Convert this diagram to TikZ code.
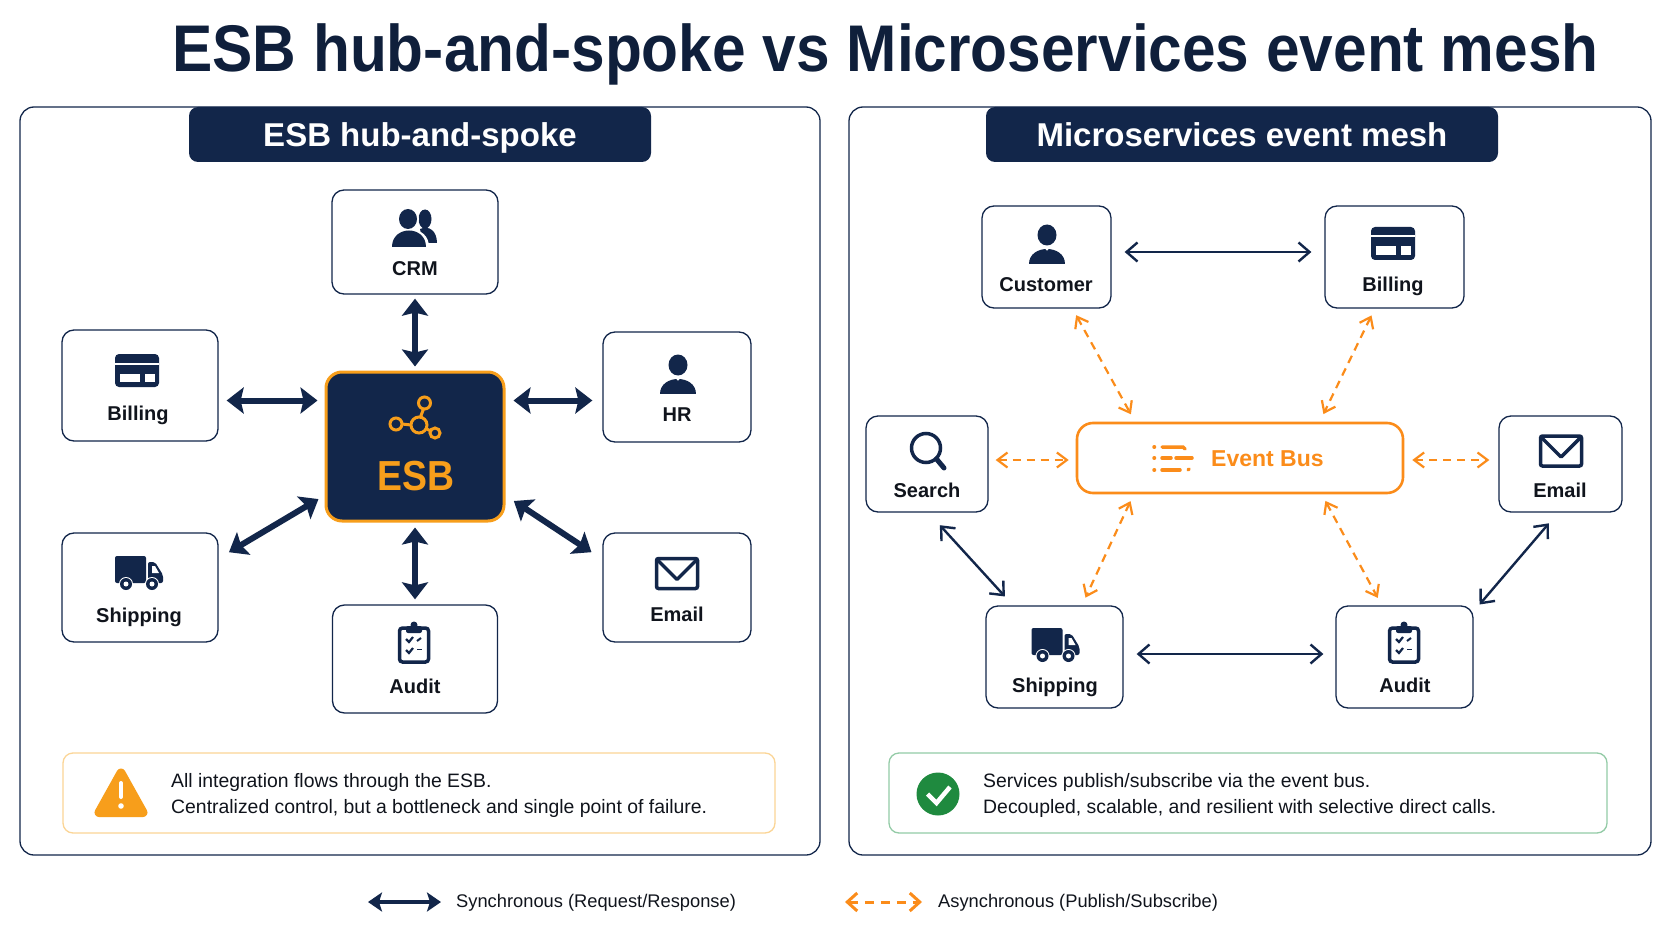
\documentclass[tikz,border=0pt]{standalone}
\usepackage{fontspec}
\setmainfont{Liberation Sans}
\newfontfamily\narrowfont[FakeStretch=0.915]{Liberation Sans}
\newfontfamily\esbfont[FakeStretch=0.89]{Liberation Sans}
\usetikzlibrary{arrows.meta}
\definecolor{navy}{HTML}{12264A}
\definecolor{titlenavy}{HTML}{0F1F3B}
\definecolor{inkblack}{HTML}{10141C}
\definecolor{busorange}{HTML}{FB8C1A}
\definecolor{esborange}{HTML}{F79E1B}
\definecolor{notegreen}{HTML}{93CBA6}
\definecolor{noteorange}{HTML}{FBD596}
\definecolor{okgreen}{HTML}{1F8A3F}
\tikzset{
  panelbox/.style={draw=navy, line width=1.3pt, rounded corners=14pt, fill=white},
  headbox/.style={fill=navy, rounded corners=9pt, text=white, font=\fontsize{33}{36}\selectfont\bfseries, text height=24pt, text depth=0pt},
  svcbox/.style={draw=navy, line width=1.3pt, rounded corners=12pt, fill=white},
  svclabel/.style={text=inkblack, font=\fontsize{20}{24}\selectfont\bfseries, inner sep=0pt, text height=15pt, text depth=0pt},
  notebox/.style={line width=1.3pt, rounded corners=10pt, fill=white},
  notetext/.style={anchor=west, align=left, inner sep=0pt, text=inkblack, font=\fontsize{19.4}{26}\selectfont},
  legendtext/.style={anchor=west, inner sep=0pt, text=inkblack, font=\fontsize{18.3}{24}\selectfont},
  hubarrow/.style={draw=navy, line width=6pt, {Stealth[length=17pt,width=26pt,inset=3pt]}-{Stealth[length=17pt,width=26pt,inset=3pt]}},
  syncarrow/.style={draw=navy, line width=2.4pt, {Straight Barb[length=11pt,width=19pt]}-{Straight Barb[length=11pt,width=19pt]}},
  asyncarrow/.style={draw=busorange, line width=2.2pt, dash pattern=on 8pt off 6pt, {Straight Barb[length=10pt,width=15pt]}-{Straight Barb[length=10pt,width=15pt]}},
}
\newcommand{\iconperson}[2]{\begin{scope}[shift={(#1,#2)}]
\fill [navy] (0,-10) ellipse (9.5 and 10.5);
\fill [navy] (-18,19) .. controls (-18,-1) and (18,-1) .. (18,19) -- cycle;
\draw [white, line width=1pt] (-3,1.5) -- (0,5) -- (3,1.5);
\end{scope}}
\newcommand{\iconpeople}[2]{\begin{scope}[shift={(#1,#2)}]
\fill [navy] (15,-9) ellipse (6.5 and 9.5);
\fill [navy] (13,15) -- (10,1) .. controls (19,-3) and (27,3) .. (27,15) -- cycle;
\fill [white] (-2,-9) ellipse (11 and 12);
\fill [white] (-15,19) .. controls (-15,-4) and (19,-4) .. (19,19) -- cycle;
\fill [navy] (-2,-9) ellipse (9 and 10);
\fill [navy] (-18,19) .. controls (-18,-3) and (16,-3) .. (16,19) -- cycle;
\end{scope}}
\newcommand{\iconcard}[2]{\begin{scope}[shift={(#1,#2)}]
\fill [navy, rounded corners=4pt] (-22,-16.5) rectangle (22,16.5);
\fill [white] (-22,-8) rectangle (22,-6);
\fill [white] (-17,3) rectangle (3,11.5);
\fill [white] (8,3) rectangle (18,11.5);
\end{scope}}
\newcommand{\iconmail}[2]{\begin{scope}[shift={(#1,#2)}]
\draw [navy, line width=3.5pt, rounded corners=2pt] (-20.5,-15) rectangle (20.5,15);
\draw [navy, line width=3.5pt, line join=round] (-19,-13) -- (0,6) -- (19,-13);
\end{scope}}
\newcommand{\icontruck}[2]{\begin{scope}[shift={(#1,#2)}]
\fill [navy, rounded corners=2pt] (-24,-17) rectangle (7,10);
\fill [navy, rounded corners=2pt] (9,-11) -- (16,-11) -- (24,2) -- (24,10) -- (9,10) -- cycle;
\fill [white] (13,-7) -- (16,-7) -- (20,0) -- (13,0) -- cycle;
\fill [white] (-13,11) circle (7);
\fill [white] (13,11) circle (7);
\fill [navy] (-13,11) circle (6);
\fill [navy] (13,11) circle (6);
\fill [white] (-13,11) circle (2.5);
\fill [white] (13,11) circle (2.5);
\end{scope}}
\newcommand{\iconclip}[2]{\begin{scope}[shift={(#1,#2)}]
\draw [navy, line width=3.5pt, rounded corners=3pt] (-14.5,-15) rectangle (14.5,19);
\fill [navy, rounded corners=2pt] (-8,-17) rectangle (8,-10);
\fill [navy] (0,-18) circle (3.5);
\draw [navy, line width=2.2pt] (-8,-4) -- (-5,-1) -- (-1,-6);
\draw [navy, line width=2.2pt] (-8,7) -- (-5,10) -- (-1,5);
\draw [navy, line width=2pt] (3,-2) -- (7,-5);
\draw [navy, line width=1.6pt] (3,6.5) -- (8,6.5);
\end{scope}}
\begin{document}
\begin{tikzpicture}[x=1pt,y=-1pt]
\useasboundingbox (0,0) rectangle (1672,941);
\node [text=titlenavy, font=\narrowfont\fontsize{66}{70}\selectfont\bfseries, inner sep=0pt, text height=50pt, text depth=0pt] (title) at (885.5,47) {ESB hub-and-spoke vs Microservices event mesh};

\draw [panelbox] (20,107) rectangle (820,855);
\draw [panelbox] (849,107) rectangle (1651,855);
\node [headbox, minimum width=462pt, minimum height=55pt] (lefthead) at (420,134.5) {ESB hub-and-spoke};
\node [headbox, minimum width=512pt, minimum height=55pt] (righthead) at (1242,134.5) {Microservices event mesh};

\node [svcbox, minimum width=166pt, minimum height=104pt] (crm) at (415,242) {};
\node [svcbox, minimum width=156pt, minimum height=111pt] (billing) at (140,385.5) {};
\node [svcbox, minimum width=148pt, minimum height=110pt] (hr) at (677,387) {};
\node [svcbox, minimum width=156pt, minimum height=109pt] (shipping) at (140,587.5) {};
\node [svcbox, minimum width=148pt, minimum height=109pt] (email) at (677,587.5) {};
\node [svcbox, minimum width=165pt, minimum height=108pt] (audit) at (415,659) {};
\node [draw=esborange, fill=navy, line width=3pt, rounded corners=16pt, minimum width=178pt, minimum height=149pt] (esb) at (415,446.5) {};

\iconpeople{410}{228}
\iconcard{137}{370.5}
\iconperson{678}{375}
\icontruck{139}{573}
\iconmail{677}{573.5}
\iconclip{414}{643}
\begin{scope}[shift={(415,425)}, draw=esborange, line width=3pt]
\draw (4,0) circle (8);
\draw (9.5,-22) circle (6);
\draw (-19,-1) circle (6);
\draw (20,8) circle (5);
\draw (5.5,-8) -- (8.5,-16);
\draw (-13,-1) -- (-4,0);
\draw (11,3.5) -- (15.5,6);
\end{scope}
\node [text=esborange, font=\esbfont\fontsize{42}{48}\selectfont\bfseries, inner sep=0pt, text height=30pt, text depth=0pt] (esblabel) at (416,475) {ESB};

\node [svclabel] (crmlabel) at (415,268) {CRM};
\node [svclabel] (billinglabel) at (138,413) {Billing};
\node [svclabel] (hrlabel) at (677,414) {HR};
\node [svclabel] (shippinglabel) at (139,615) {Shipping};
\node [svclabel] (emaillabel) at (677,614) {Email};
\node [svclabel] (auditlabel) at (415,686) {Audit};

\draw [hubarrow, shorten <=4pt, shorten >=4pt] (crm.south) -- (esb.north);
\draw [hubarrow, shorten <=8pt, shorten >=7pt] ([yshift=-15pt]billing.east) -- ([yshift=46pt]esb.west);
\draw [hubarrow, shorten <=8pt, shorten >=10pt] ([yshift=46pt]esb.east) -- ([yshift=-13.5pt]hr.west);
\draw [hubarrow, shorten <=12pt, shorten >=7pt] ([yshift=-26pt]shipping.north east) -- ([yshift=27pt]esb.south west);
\draw [hubarrow, shorten <=13pt, shorten >=10pt] ([yshift=-27pt]email.north west) -- ([yshift=27pt]esb.south east);
\draw [hubarrow, shorten <=5pt, shorten >=5pt] (esb.south) -- (audit.north);

\node [svcbox, minimum width=129pt, minimum height=102pt] (customer) at (1046.5,257) {};
\node [svcbox, minimum width=139pt, minimum height=102pt] (billingb) at (1394.5,257) {};
\node [svcbox, minimum width=122pt, minimum height=96pt] (search) at (927,464) {};
\node [svcbox, minimum width=123pt, minimum height=96pt] (emailb) at (1560.5,464) {};
\node [svcbox, minimum width=137pt, minimum height=102pt] (shippingb) at (1054.5,657) {};
\node [svcbox, minimum width=137pt, minimum height=102pt] (auditb) at (1404.5,657) {};
\node [draw=busorange, fill=white, line width=2.6pt, rounded corners=16pt, minimum width=326pt, minimum height=70pt] (bus) at (1240,458) {};

\iconperson{1047}{245}
\iconcard{1393}{243.5}
\icontruck{1055.5}{645}
\iconmail{1561}{451}
\iconclip{1404}{643}
\draw [navy, line width=3.5pt] (926,448) circle (14.5);
\draw [navy, line width=5pt, line cap=round] (936.5,459) -- (944,468);
\begin{scope}[shift={(1173,458)}, draw=busorange, line width=3.5pt, line cap=round]
\draw (-19,-11) -- (-18.5,-11);
\draw (-19,0) -- (-18.5,0);
\draw (-19,12) -- (-18.5,12);
\draw (-11,-11) -- (10,-11) -- (12,-9);
\draw (-11,0) -- (-2,0);
\draw (3,0) -- (19,0);
\draw (-11,12) -- (7,12);
\draw (15,12) -- (16,11);
\end{scope}
\node [text=busorange, font=\fontsize{23}{28}\selectfont\bfseries, inner sep=0pt, anchor=west] (buslabel) at (1211,459) {Event Bus};

\node [svclabel] (customerlabel) at (1046,284) {Customer};
\node [svclabel] (billingblabel) at (1393,284) {Billing};
\node [svclabel] (searchlabel) at (927,490) {Search};
\node [svclabel] (emailblabel) at (1560,490) {Email};
\node [svclabel] (shippingblabel) at (1055,685) {Shipping};
\node [svclabel] (auditblabel) at (1405,685) {Audit};

\draw [syncarrow, shorten <=13pt, shorten >=13pt] ([yshift=5pt]customer.east) -- ([yshift=5pt]billingb.west);
\draw [syncarrow, shorten <=13pt, shorten >=12pt] ([yshift=3pt]shippingb.east) -- ([yshift=3pt]auditb.west);
\draw [syncarrow, shorten <=17pt, shorten >=12pt] ([xshift=1.4pt]search.south) -- ([xshift=-41.5pt]shippingb.north);
\draw [syncarrow, shorten <=14pt, shorten >=9pt] ([xshift=-2.5pt]emailb.south) -- ([yshift=-6pt]auditb.north east);
\draw [asyncarrow, shorten <=7.5pt, shorten >=8.5pt] ([xshift=26pt]customer.south) -- ([xshift=-105pt]bus.north);
\draw [asyncarrow, shorten <=7.5pt, shorten >=8.5pt] ([xshift=-19.7pt]billingb.south) -- ([xshift=79.7pt]bus.north);
\draw [asyncarrow, shorten <=7pt, shorten >=7pt] ([yshift=4pt]search.east) -- ([yshift=-2pt]bus.west);
\draw [asyncarrow, shorten <=8pt, shorten >=9pt] ([yshift=-2pt]bus.east) -- ([yshift=4pt]emailb.west);
\draw [asyncarrow, shorten <=7.5pt, shorten >=8.5pt] ([xshift=-106.3pt]bus.south) -- ([xshift=27.4pt]shippingb.north);
\draw [asyncarrow, shorten <=7.5pt, shorten >=8.5pt] ([xshift=81.8pt]bus.south) -- ([xshift=-22.7pt]auditb.north);

\draw [notebox, draw=noteorange] (63,753) rectangle (775,833);
\draw [esborange, fill=esborange, line width=9pt, line join=round] (121,773) -- (143,812.5) -- (99,812.5) -- cycle;
\draw [white, line width=4pt, line cap=round] (121,783) -- (121,797);
\fill [white] (121,806) circle (2.8);
\node [notetext] (esbnote) at (171,795) {All integration flows through the ESB.\\Centralized control, but a bottleneck and single point of failure.};

\draw [notebox, draw=notegreen] (889,753) rectangle (1607,833);
\fill [okgreen] (938,794) circle (21.5);
\draw [white, line width=4.5pt] (927.5,794) -- (936.5,803) -- (950,787);
\node [notetext] (meshnote) at (983,795) {Services publish/subscribe via the event bus.\\Decoupled, scalable, and resilient with selective direct calls.};

\coordinate (syncleft) at (368,902);
\coordinate (syncright) at (441,902);
\coordinate (asyncleft) at (845,902);
\coordinate (asyncright) at (922,902);
\draw [navy, line width=4pt, {Stealth[length=14pt,width=19pt,inset=3pt]}-{Stealth[length=14pt,width=19pt,inset=3pt]}] (syncleft) -- (syncright);
\draw [busorange, line width=3pt, dash pattern=on 9pt off 7pt, {Straight Barb[length=10pt,width=18pt]}-{Straight Barb[length=10pt,width=18pt]}] (asyncleft) -- (asyncright);
\node [legendtext] (synclabel) at (456,903) {Synchronous (Request/Response)};
\node [legendtext] (asynclabel) at (938,903) {Asynchronous (Publish/Subscribe)};
\end{tikzpicture}
\end{document}
